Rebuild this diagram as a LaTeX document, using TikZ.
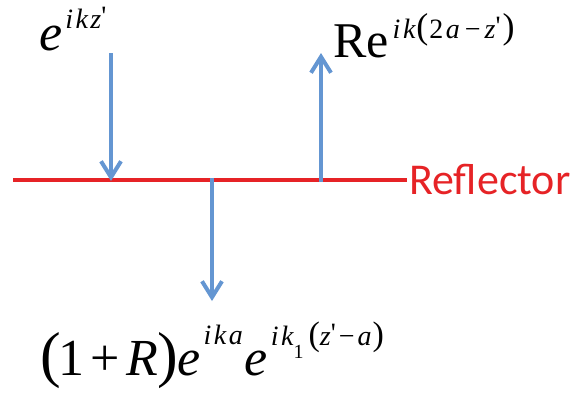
\documentclass[tikz,border=0pt]{standalone}
\usepackage{fontspec}
\setmainfont{Liberation Serif}
\setsansfont{Carlito}
\usetikzlibrary{arrows.meta}
\definecolor{refred}{RGB}{230,35,38}
\definecolor{waveblue}{RGB}{100,150,210}
\newcommand{\fs}[1]{\fontsize{#1}{#1}\selectfont}
\newcommand{\kk}{\kern2.5pt}
\newcommand{\pr}{\raisebox{3pt}{\upshape\textquotesingle}}
\tikzset{
  formula/.style={inner sep=0pt, anchor=base west, text=black},
  wave/.style={draw=waveblue, line width=4pt, -{Straight Barb[length=16pt,width=20pt,line width=4pt]}},
  reflline/.style={draw=refred, line width=4.5pt}
}
\begin{document}
\begin{tikzpicture}[x=1pt,y=-1pt]
\useasboundingbox (0,0) rectangle (579,392);
% reflector
\coordinate (Lstart) at (13,180);
\node[inner sep=0pt, anchor=west, text=refred, font=\sffamily\fs{44}] (refl) at (409,180) {Reflector};
\draw[reflline] (Lstart) -- ([xshift=-2pt]refl.west);
% waves
\coordinate (inA) at (111,53);
\coordinate (inB) at (111,181);
\coordinate (trA) at (212,178);
\coordinate (trB) at (212,301);
\coordinate (rfA) at (321,182);
\coordinate (rfB) at (321,53);
\draw[wave] (inA) -- (inB);
\draw[wave] (trA) -- (trB);
\draw[wave] (rfA) -- (rfB);
% formulas
\node[formula] (inc) at (39,50) {\fs{52}\itshape e\kern3pt\raisebox{22pt}{\fs{28}i\kk k\kk z\pr}};
\node[formula] (refw) at (333,57) {\fs{50}Re\kern4pt\raisebox{19pt}{\fs{28}\itshape i\kk k\kern1pt{\fs{36}\upshape(}\kern1pt{\upshape 2}\kk a\kern5pt{\upshape −}\kern4pt z\pr\kern2pt{\fs{36}\upshape)}}};
\node[formula] (trw) at (40,375) {\fs{52}{\fs{62}(}\kern-2pt1\kern6pt+\kern6pt\textit{R}{\fs{62})}\kern-1pt\textit{e}\kern3pt\raisebox{31pt}{\fs{28}\itshape i\kk k\kk a}\kern2pt\textit{e}\kern3pt\raisebox{30pt}{\fs{28}\itshape i\kk k\raisebox{-13pt}{\fs{20}\upshape 1}\kern5pt{\fs{34}\upshape(}z\pr\kern3pt{\upshape −}\kern3pt a\kern1pt{\fs{34}\upshape)}}};
\end{tikzpicture}
\end{document}
